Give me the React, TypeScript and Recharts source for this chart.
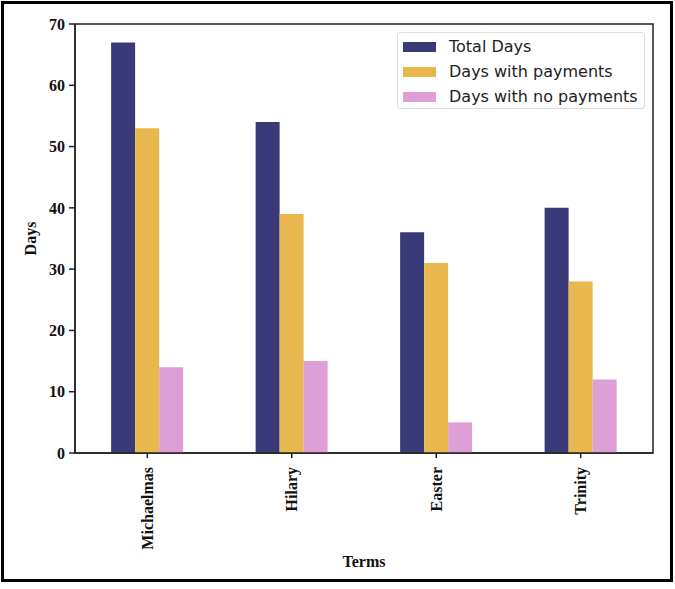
import { BarChart, Bar, XAxis, YAxis, Legend, ReferenceArea } from 'recharts';

const terms = ['Michaelmas', 'Hilary', 'Easter', 'Trinity'];
const totalDays = [67, 54, 36, 40];
const paidDays = [53, 39, 31, 28];
const unpaidDays = [14, 15, 5, 12];
const yTicks = [0, 10, 20, 30, 40, 50, 60, 70];

const series = [
  { key: 'total', label: 'Total Days', color: '#3a3a78' },
  { key: 'paid', label: 'Days with payments', color: '#e8b84e' },
  { key: 'unpaid', label: 'Days with no payments', color: '#dd9fd6' },
];

const data = terms.map((term, i) => ({
  term,
  total: totalDays[i],
  paid: paidDays[i],
  unpaid: unpaidDays[i],
}));

const serif = '"Liberation Serif", "Times New Roman", serif';
const axisColor = '#222';

const XTick = ({ x, y, payload }: any) => (
  <text
    x={x}
    y={y + 7}
    dy="0.35em"
    transform={`rotate(-90, ${x}, ${y + 7})`}
    textAnchor="end"
    fontFamily={serif}
    fontWeight="bold"
    fontSize={16}
    fill="#111"
  >
    {payload.value}
  </text>
);

const LegendBox = () => (
  <div
    style={{
      position: 'absolute',
      left: 0,
      top: 0,
      width: 248,
      height: 77,
      border: '1px solid #ddd',
      borderRadius: 3,
      background: '#fff',
      boxSizing: 'border-box',
      padding: '1px 0 0 5px',
      fontFamily: '"DejaVu Sans", sans-serif',
      fontSize: 16,
      color: '#222',
    }}
  >
    {series.map((s) => (
      <div key={s.key} style={{ display: 'flex', alignItems: 'center', height: 25 }}>
        <div style={{ width: 33, height: 10, background: s.color, marginRight: 13 }} />
        <span>{s.label}</span>
      </div>
    ))}
  </div>
);

export default function App() {
  return (
    <div style={{ position: 'absolute', left: 0, top: 0, width: 675, height: 589, background: '#fff' }}>
      <div
        style={{
          position: 'absolute',
          left: 1,
          top: 1,
          width: 672,
          height: 581,
          border: '3px solid #000',
          boxSizing: 'border-box',
        }}
      />
      <BarChart
        width={675}
        height={589}
        data={data}
        margin={{ top: 24, right: 22, left: 0, bottom: 0 }}
        barCategoryGap="25%"
        barGap={0}
      >
        <XAxis
          dataKey="term"
          height={136}
          tick={<XTick />}
          tickSize={5}
          interval={0}
          axisLine={{ stroke: axisColor, strokeWidth: 1.5 }}
          tickLine={{ stroke: axisColor, strokeWidth: 1.5 }}
          label={{
            value: 'Terms',
            position: 'insideBottom',
            offset: 22,
            style: { fontFamily: serif, fontWeight: 'bold', fontSize: 16, fill: '#111' },
          }}
        />
        <YAxis
          width={75}
          domain={[0, 70]}
          ticks={yTicks}
          tickSize={6}
          tickMargin={4}
          axisLine={{ stroke: axisColor, strokeWidth: 1.5 }}
          tickLine={{ stroke: axisColor, strokeWidth: 1.5 }}
          tick={{ fontFamily: serif, fontWeight: 'bold', fontSize: 16, fill: '#111' }}
          label={{
            value: 'Days',
            angle: -90,
            position: 'insideLeft',
            offset: 30,
            style: { fontFamily: serif, fontWeight: 'bold', fontSize: 16, fill: '#111', textAnchor: 'middle' },
          }}
        />
        <ReferenceArea y1={0} y2={70} fill="none" stroke={axisColor} strokeWidth={1.5} ifOverflow="visible" />
        <Legend
          content={<LegendBox />}
          wrapperStyle={{ left: 397, top: 32, width: 0, height: 0 }}
        />
        {series.map((s) => (
          <Bar key={s.key} dataKey={s.key} name={s.label} fill={s.color} isAnimationActive={false} />
        ))}
      </BarChart>
    </div>
  );
}
